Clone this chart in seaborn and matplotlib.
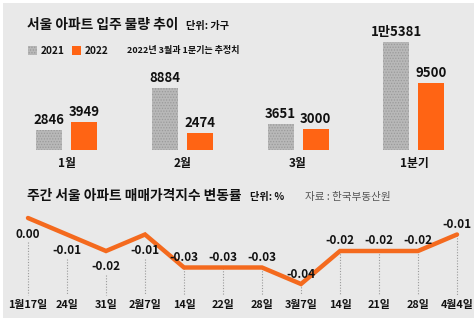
import matplotlib
matplotlib.use("Agg")
import matplotlib.pyplot as plt
import seaborn as sns
import pandas as pd
from matplotlib.patches import Rectangle

sns.set_theme(style="white")
plt.rcParams["font.family"] = ["Noto Sans CJK KR", "DejaVu Sans"]
plt.rcParams["hatch.linewidth"] = 0.6

# --- data -------------------------------------------------------------
periods = ["1월", "2월", "3월", "1분기"]
years = ["2021", "2022"]
supply_2021 = [2846, 8884, 3651, 15381]
supply_2022 = [3949, 2474, 3000, 9500]
supply_labels_2021 = ["2846", "8884", "3651", "1만5381"]
supply_labels_2022 = ["3949", "2474", "3000", "9500"]

weeks = ["1월17일", "24일", "31일", "2월7일", "14일", "22일", "28일",
         "3월7일", "14일", "21일", "28일", "4월4일"]
weekly_change = [0.00, -0.01, -0.02, -0.01, -0.03, -0.03, -0.03,
                 -0.04, -0.02, -0.02, -0.02, -0.01]

GRAY = "#b8b8b8"
GRAY_DOT = "#9a9a9a"
ORANGE = "#ff6414"
LINE = "#f46a1e"
BG = "#e9e9e9"
INK = "#111111"
W, H = 474, 325

fig = plt.figure(figsize=(W / 100, H / 100), dpi=100)
fig.patch.set_facecolor("white")
# panel background with a thin white margin
fig.patches.append(Rectangle((3 / W, (H - 318) / H), 1, (318 - 3) / H,
                             transform=fig.transFigure, facecolor=BG,
                             edgecolor="none", zorder=-10))


def fx(px):
    return px / W


def fy(py):
    return 1 - py / H


# --- top: monthly move-in supply --------------------------------------
df = pd.DataFrame({
    "period": periods * 2,
    "year": [years[0]] * 4 + [years[1]] * 4,
    "units": supply_2021 + supply_2022,
})
ax1 = fig.add_axes([0, fy(150), 1, 150 / H])
sns.barplot(data=df, x="period", y="units", hue="year", order=periods,
            hue_order=years, palette=[GRAY, ORANGE], width=0.603, gap=0.257,
            legend=False, ax=ax1, saturation=1)
ax1.set_xlim(-66.5 / 115.8, (W - 66.5) / 115.8)
ax1.set_ylim(0, 150 * 142.4)
ax1.axis("off")
for bar in ax1.patches:
    if matplotlib.colors.to_hex(bar.get_facecolor()) == GRAY:
        # stippled texture on the 2021 bars
        bar.set_edgecolor(GRAY_DOT)
        bar.set_linewidth(0)
        bar.set_hatch("......")
    else:
        bar.set_edgecolor("none")

for i, (a, b) in enumerate(zip(supply_2021, supply_2022)):
    ax1.text(i - 0.151, a + 3 * 142.4, supply_labels_2021[i], ha="center",
             va="bottom", fontsize=9.5, fontweight="bold", color=INK)
    ax1.text(i + 0.151, b + 3 * 142.4, supply_labels_2022[i], ha="center",
             va="bottom", fontsize=9.5, fontweight="bold", color=INK)
    ax1.text(i, -13 * 142.4, periods[i], ha="center", va="center",
             fontsize=8.5, fontweight="bold", color=INK, clip_on=False)

fig.text(fx(27), fy(25), "서울 아파트 입주 물량 추이", fontsize=9.9,
         fontweight="bold", color=INK, va="center", ha="left")
fig.text(fx(186), fy(26), "단위: 가구", fontsize=7.3, fontweight="bold",
         color=INK, va="center", ha="left")

# legend row
leg = Rectangle((fx(28), fy(55)), 9 / W, 9 / H, transform=fig.transFigure,
                facecolor=GRAY, edgecolor=GRAY_DOT, linewidth=0, hatch="......")
fig.patches.append(leg)
fig.text(fx(41), fy(50.5), "2021", fontsize=7.3, fontweight="bold",
         color=INK, va="center", ha="left")
fig.patches.append(Rectangle((fx(72), fy(55)), 9 / W, 9 / H,
                             transform=fig.transFigure, facecolor=ORANGE,
                             edgecolor="none"))
fig.text(fx(85), fy(50.5), "2022", fontsize=7.3, fontweight="bold",
         color=INK, va="center", ha="left")
fig.text(fx(127), fy(50.5), "2022년 3월과 1분기는 추정치", fontsize=6.5,
         fontweight="bold", color=INK, va="center", ha="left")

# --- bottom: weekly price index change ---------------------------------
ax2 = fig.add_axes([0, 0, 1, fy(170)])
ax2.set_xlim(-28 / 39, (W - 28) / 39)
ax2.set_ylim(-(H - 218) / 1650, (218 - 170) / 1650)
ax2.axis("off")

xs = list(range(len(weeks)))
for i, v in enumerate(weekly_change):
    above = i >= 4
    label_px = -10 if above else 16
    ty = v - label_px / 1650
    ax2.text(i, ty, f"{v:.2f}", ha="center", va="center",
             fontsize=8.5, fontweight="bold", color=INK, zorder=5)
    top = v if above else ty - 8 / 1650
    ax2.plot([i, i], [top, -(295 - 218) / 1650], ls=(0, (1, 1.5)),
             color="#9a9a9a", lw=0.8, zorder=1)
    ax2.text(i, -(305 - 218) / 1650, weeks[i], ha="center", va="center",
             fontsize=7.8, fontweight="bold", color=INK)

sns.lineplot(x=xs, y=weekly_change, color=LINE, lw=3.2, ax=ax2, zorder=3,
             solid_joinstyle="miter")

fig.text(fx(27), fy(196), "주간 서울 아파트 매매가격지수 변동률", fontsize=9.9,
         fontweight="bold", color=INK, va="center", ha="left")
fig.text(fx(250), fy(197), "단위: %", fontsize=7.3, fontweight="bold",
         color=INK, va="center", ha="left")
fig.text(fx(305), fy(197), "자료 : 한국부동산원", fontsize=7.6,
         color="#555555", va="center", ha="left")

fig.savefig("out.png", dpi=100, facecolor=fig.get_facecolor())
